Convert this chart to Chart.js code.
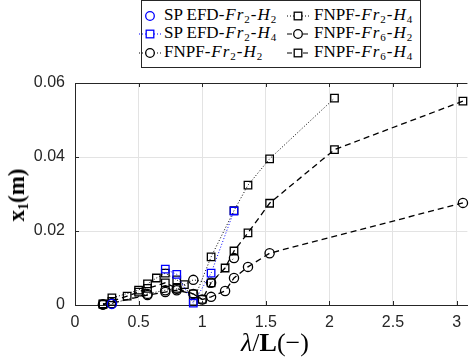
<!DOCTYPE html>
<html>
<head>
<meta charset="utf-8">
<script src="https://cdn.jsdelivr.net/npm/chart.js@4"></script>
<style>
body{margin:0;background:#fff;}
#wrap{position:relative;width:474px;height:362px;font-family:'Liberation Serif',serif;color:#000;}
#c{position:absolute;left:0;top:0;}
#legend{position:absolute;left:141px;top:0;width:278px;height:66px;border:1px solid #262626;background:#fff;}
.lt{position:absolute;white-space:nowrap;font-size:17px;line-height:18px;}
.lt i{letter-spacing:1px;margin-left:1px;}
.lt sub{font-size:11px;vertical-align:-3px;line-height:0;margin-right:1px;}
.lm{position:absolute;}
#xt{position:absolute;left:0;width:474px;top:328px;text-align:center;padding-left:76px;box-sizing:border-box;font-size:26px;}
#yt{position:absolute;left:17px;top:195px;font-size:23px;font-weight:bold;white-space:nowrap;transform:translate(-50%,-50%) rotate(-90deg);}
#yt sub{font-size:14px;vertical-align:-4px;line-height:0;}
</style>
</head>
<body>
<div id="wrap">
<canvas id="c" width="474" height="362"></canvas>
<div id="legend"></div>
<div id="xt"><i>λ</i>/<b>L</b>(−)</div>
<div id="yt">x<sub>1</sub>(m)</div>
</div>
<script>
// axis ticks
const xTicks = [0, 0.5, 1, 1.5, 2, 2.5, 3];
const yTicks = [0, 0.02, 0.04, 0.06];

// SP EFD Fr2 H2
const efdH2_x = [0.29];
const efdH2_y = [0.0003];
// SP EFD Fr2 H4
const efdH4_x = [0.71, 0.80, 0.93, 1.07, 1.25];
const efdH4_y = [0.0097, 0.0083, 0.0005, 0.0086, 0.0254];
// FNPF Fr2 H2
const fr2H2_x = [0.22, 0.29, 0.57, 0.71, 0.80, 0.93, 1.07, 1.25];
const fr2H2_y = [0.0002, 0.0004, 0.0030, 0.0040, 0.0044, 0.0068, 0.0060, 0.0127];
// FNPF Fr2 H4
const fr2H4_x = [0.22, 0.29, 0.50, 0.57, 0.64, 0.71, 0.80, 0.86, 0.93, 1.07, 1.25, 1.36, 1.53, 2.04];
const fr2H4_y = [0.0003, 0.0019, 0.0040, 0.0057, 0.0073, 0.0086, 0.0068, 0.0055, 0.0010, 0.0130, 0.0255, 0.0324, 0.0395, 0.0559];
// FNPF Fr6 H2
const fr6H2_x = [0.22, 0.29, 0.57, 0.71, 0.80, 0.93, 1.0, 1.07, 1.18, 1.25, 1.36, 1.53, 3.05];
const fr6H2_y = [0.0001, 0.0005, 0.0027, 0.0035, 0.0040, 0.0030, 0.0015, 0.0022, 0.0038, 0.0073, 0.0103, 0.0140, 0.0276];
// FNPF Fr6 H4
const fr6H4_x = [0.22, 0.29, 0.41, 0.50, 0.57, 0.71, 0.80, 0.93, 1.0, 1.07, 1.18, 1.25, 1.36, 1.53, 2.04, 3.05];
const fr6H4_y = [0.0002, 0.0010, 0.0024, 0.0035, 0.0045, 0.0060, 0.0045, 0.0030, 0.0015, 0.0060, 0.0100, 0.0146, 0.0195, 0.0275, 0.0420, 0.0551];

const dotted = [1, 2];
const dashed = [6, 4];

function pts(xs, ys){
    return xs.map((v, i) => ({x: v, y: ys[i]}));
}

function series(xs, ys, color, shape, dash, line){
    return {
        data: pts(xs, ys),
        showLine: line,
        borderColor: color,
        backgroundColor: 'rgba(0,0,0,0)',
        borderWidth: dash == dotted ? 1 : 1.3,
        borderDash: dash,
        pointStyle: shape,
        pointRadius: shape == 'rect' ? 5.3 : 4.6,
        pointBorderWidth: 1.3,
        pointBorderColor: color,
        pointBackgroundColor: 'rgba(0,0,0,0)',
        clip: false
    };
}

// inward ticks and box like matlab
const frame = {
    id: 'frame',
    afterDraw(chart){
        const ctx = chart.ctx, a = chart.chartArea, x = chart.scales.x, y = chart.scales.y;
        ctx.save();
        ctx.strokeStyle = '#262626';
        ctx.lineWidth = 1;
        ctx.beginPath();
        ctx.moveTo(a.left + 0.5, a.bottom);
        ctx.lineTo(a.left + 0.5, a.top + 0.5);
        ctx.lineTo(a.right, a.top + 0.5);
        xTicks.forEach(v => {
            const px = Math.round(x.getPixelForValue(v)) + 0.5;
            ctx.moveTo(px, a.bottom); ctx.lineTo(px, a.bottom - 4);
            ctx.moveTo(px, a.top); ctx.lineTo(px, a.top + 4);
        });
        yTicks.forEach(v => {
            const py = Math.round(y.getPixelForValue(v)) + 0.5;
            ctx.moveTo(a.left, py); ctx.lineTo(a.left + 4, py);
        });
        ctx.stroke();
        ctx.restore();
    }
};

new Chart('c', {
    type: 'scatter',
    data: {
        datasets: [
            series(efdH2_x, efdH2_y, '#0000ff', 'circle', [], false),
            series(efdH4_x, efdH4_y, '#0000ff', 'rect', dotted, true),
            series(fr2H2_x, fr2H2_y, '#000', 'circle', dotted, true),
            series(fr2H4_x, fr2H4_y, '#000', 'rect', dotted, true),
            series(fr6H2_x, fr6H2_y, '#000', 'circle', dashed, true),
            series(fr6H4_x, fr6H4_y, '#000', 'rect', dashed, true)
        ]
    },
    options: {
        responsive: false,
        animation: false,
        layout: {padding: {top: 83, left: 0, right: 0, bottom: 0}},
        plugins: {legend: {display: false}, tooltip: {enabled: false}},
        scales: {
            x: {
                type: 'linear', min: 0, max: 3.085,
                afterBuildTicks: s => { s.ticks = xTicks.map(v => ({value: v})); },
                afterFit: s => { s.height = 57; },
                grid: {color: '#e3e3e3', drawTicks: false},
                border: {color: '#262626'},
                ticks: {color: '#262626', padding: 8, font: {family: 'Liberation Sans', size: 16}, callback: v => String(v)}
            },
            y: {
                type: 'linear', min: 0, max: 0.06,
                afterBuildTicks: s => { s.ticks = yTicks.map(v => ({value: v})); },
                afterFit: s => { s.width = 75; },
                grid: {color: '#e3e3e3', drawTicks: false},
                border: {color: '#262626'},
                ticks: {color: '#262626', padding: 10, font: {family: 'Liberation Sans', size: 16}, callback: v => String(+v.toFixed(3))}
            }
        }
    },
    plugins: [frame]
});

// legend (html so the sub/italic text matches)
const legendItems = [
    {col: 0, row: 0, color: '#0000ff', shape: 'circle', dash: null, html: 'SP EFD-<i>Fr</i><sub>2</sub>-<i>H</i><sub>2</sub>'},
    {col: 0, row: 1, color: '#0000ff', shape: 'rect', dash: '1 2', html: 'SP EFD-<i>Fr</i><sub>2</sub>-<i>H</i><sub>4</sub>'},
    {col: 0, row: 2, color: '#000', shape: 'circle', dash: '1 2', html: 'FNPF-<i>Fr</i><sub>2</sub>-<i>H</i><sub>2</sub>'},
    {col: 1, row: 0, color: '#000', shape: 'rect', dash: '1 2', html: 'FNPF-<i>Fr</i><sub>2</sub>-<i>H</i><sub>4</sub>'},
    {col: 1, row: 1, color: '#000', shape: 'circle', dash: '5 3', html: 'FNPF-<i>Fr</i><sub>6</sub>-<i>H</i><sub>2</sub>'},
    {col: 1, row: 2, color: '#000', shape: 'rect', dash: '5 3', html: 'FNPF-<i>Fr</i><sub>6</sub>-<i>H</i><sub>4</sub>'}
];
const rowY = [15, 33, 52];
const colMark = [149, 297];
const colText = [163, 313];
const legend = document.getElementById('legend');
legendItems.forEach(it => {
    const cx = colMark[it.col] - 141, cy = rowY[it.row];
    let svg = '<svg class="lm" width="24" height="14" style="left:' + (cx - 12) + 'px;top:' + (cy - 7) + 'px">';
    if(it.dash) svg += '<line x1="1" y1="7" x2="23" y2="7" stroke="' + it.color + '" stroke-width="1" stroke-dasharray="' + it.dash + '"/>';
    if(it.shape == 'circle') svg += '<circle cx="12" cy="7" r="4.3" fill="#fff" stroke="' + it.color + '" stroke-width="1.3"/>';
    else svg += '<rect x="8.2" y="3.2" width="7.6" height="7.6" fill="#fff" stroke="' + it.color + '" stroke-width="1.3"/>';
    svg += '</svg>';
    legend.insertAdjacentHTML('beforeend', svg);
    legend.insertAdjacentHTML('beforeend', '<div class="lt" style="left:' + (colText[it.col] - 141) + 'px;top:' + (cy - 10) + 'px">' + it.html + '</div>');
});
</script>
</body>
</html>
